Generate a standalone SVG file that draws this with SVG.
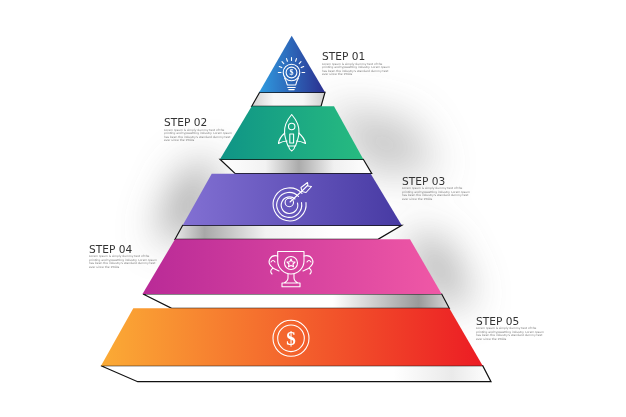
<svg xmlns="http://www.w3.org/2000/svg" width="626" height="417" viewBox="0 0 626 417">
<style>
.h{font-family:"DejaVu Sans",Verdana,sans-serif;font-size:10.6px;fill:#333}
.d{font-family:"DejaVu Sans",Verdana,sans-serif;font-size:2.9px;fill:#777}
.band{stroke:#111;stroke-width:1.2;stroke-linejoin:miter}
.i{fill:none;stroke:#fff;stroke-width:1.1;stroke-linecap:round;stroke-linejoin:round}
.fw{fill:#fff}
</style>
<defs>
<filter id="b" x="-100%" y="-100%" width="300%" height="300%"><feGaussianBlur stdDeviation="20"/></filter>
<linearGradient id="g1" x1="0" x2="1"><stop offset="0" stop-color="#2f9be0"/><stop offset="1" stop-color="#2b2f8f"/></linearGradient>
<linearGradient id="g2" x1="0" x2="1"><stop offset="0" stop-color="#0f9486"/><stop offset="1" stop-color="#27bb80"/></linearGradient>
<linearGradient id="g3" x1="0" x2="1"><stop offset="0" stop-color="#8270d3"/><stop offset="1" stop-color="#473aa3"/></linearGradient>
<linearGradient id="g4" x1="0" x2="1"><stop offset="0" stop-color="#b92a97"/><stop offset="1" stop-color="#f058a6"/></linearGradient>
<linearGradient id="g5" x1="0" x2="1"><stop offset="0" stop-color="#fbab35"/><stop offset="1" stop-color="#ec1c24"/></linearGradient>
<linearGradient id="s1" x1="0" x2="1"><stop offset="0" stop-color="#d0d0d0"/><stop offset=".3" stop-color="#f8f8f8"/><stop offset=".7" stop-color="#f6f6f6"/><stop offset="1" stop-color="#cfcfcf"/></linearGradient>
<linearGradient id="s2" x1="0" x2="1"><stop offset="0" stop-color="#fff"/><stop offset=".3" stop-color="#f2f2f2"/><stop offset=".52" stop-color="#ababab"/><stop offset=".75" stop-color="#f0f0f0"/><stop offset="1" stop-color="#fff"/></linearGradient>
<linearGradient id="s3" x1="0" x2="1"><stop offset="0" stop-color="#e8e8e8"/><stop offset=".13" stop-color="#a8a8a8"/><stop offset=".4" stop-color="#f2f2f2"/><stop offset=".7" stop-color="#fff"/><stop offset="1" stop-color="#fff"/></linearGradient>
<linearGradient id="s4" x1="0" x2="1"><stop offset="0" stop-color="#fff"/><stop offset=".62" stop-color="#fff"/><stop offset=".9" stop-color="#9a9a9a"/><stop offset="1" stop-color="#d8d8d8"/></linearGradient>
<linearGradient id="s5" x1="0" x2="1"><stop offset="0" stop-color="#fff"/><stop offset=".75" stop-color="#fff"/><stop offset=".9" stop-color="#eaeaea"/><stop offset="1" stop-color="#fff"/></linearGradient>
</defs>
<rect width="626" height="417" fill="#fff"/>
<g id="shadows" fill="#777" filter="url(#b)">
<polygon points="325,105 410,120 440,172 365,172" opacity=".42"/>
<polygon points="218,160 185,170 155,236 200,236" opacity=".7"/>
<polygon points="405,238 440,238 472,302 440,302" opacity=".7"/>
</g>
<g id="step-01">
<polygon class="band" fill="url(#s1)" points="259.7,92.3 251.7,106.3 321,106.3 325,92.3"/>
<polygon fill="url(#g1)" points="291.7,35.7 325,92.3 259.2,92.3"/>
<g class="i">
<circle cx="291.5" cy="72.5" r="8.3"/><circle cx="291.5" cy="72.5" r="5.4"/>
<path d="M284.5,78 Q286.5,81 287.3,85 H295.7 Q296.5,81 298.5,78M287.8,87.5 H295.2M288.8,89.6 H294.2"/>
<path d="M278.3,72.5H281M279.3,66.5L281.8,67.6M282,61.6L283.8,63.6M286.5,58.6L287.4,61.2M291.5,57.5V60.5M296.5,58.6L295.6,61.2M301,61.6L299.2,63.6M303.7,66.5L301.2,67.6M304.7,72.5H302"/>
</g>
<text class="fw" x="291.5" y="75.3" font-family="Liberation Serif,serif" font-size="8" font-weight="bold" text-anchor="middle">$</text>
<text class="h" x="322" y="60">STEP 01</text>
<text class="d"><tspan x="322" y="64.7">Lorem Ipsum is simply dummy text of the</tspan><tspan x="322" y="68.2">printing and typesetting industry. Lorem Ipsum</tspan><tspan x="322" y="71.7">has been the industry's standard dummy text</tspan><tspan x="322" y="75.2">ever since the 1500s</tspan></text>
</g>
<g id="step-02">
<polygon class="band" fill="url(#s2)" points="220,159.3 235,173.5 371.7,173.5 363.3,159.3"/>
<polygon fill="url(#g2)" points="251.7,106.3 334,106.3 363.3,159.3 220,159.3"/>
<g class="i">
<path d="M291.7,114.5 C287,120 284,126 284.5,133 C285,138 286.5,142 288,146 H295.5 C297,142 298.5,138 299,133 C299.5,126 296.5,120 291.7,114.5Z"/>
<circle cx="291.7" cy="126.5" r="3.2"/>
<path d="M284.8,133 Q279,138 278.5,143.5 Q283,141 287,141M298.7,133 Q304.5,138 305.5,143.5 Q300.5,141 296.5,141"/>
<path d="M289.8,134 H293.6 V143 H289.8Z M288.5,146 Q289,149.5 291.7,151 Q294.5,149.5 295,146"/>
</g>
<text class="h" x="164" y="126">STEP 02</text>
<text class="d"><tspan x="164" y="130.7">Lorem Ipsum is simply dummy text of the</tspan><tspan x="164" y="134.2">printing and typesetting industry. Lorem Ipsum</tspan><tspan x="164" y="137.7">has been the industry's standard dummy text</tspan><tspan x="164" y="141.2">ever since the 1500s</tspan></text>
</g>
<g id="step-03">
<polygon class="band" fill="url(#s3)" points="182.7,225.3 175,239.3 378,239.3 401.7,225.3"/>
<polygon fill="url(#g3)" points="211.7,173.7 370.7,173.7 401.7,225.3 182.7,225.3"/>
<g class="i">
<path d="M302,193.5 A16.5,16.5 0 1 0 306,202.5"/>
<path d="M298.5,196.5 A12.5,12.5 0 1 0 301.5,202.5"/>
<path d="M295,199 A8.3,8.3 0 1 0 297.5,203"/>
<circle cx="289.3" cy="202.5" r="4.2"/>
<path d="M290,202 L303,190 M301,187.5 L302,191.5 L306,192.5 L311.5,186.5 L308,186 L307.5,182.5 Z M307.5,185.5 L303,190"/>
</g>
<text class="h" x="402" y="185">STEP 03</text>
<text class="d"><tspan x="402" y="189.2">Lorem Ipsum is simply dummy text of the</tspan><tspan x="402" y="192.7">printing and typesetting industry. Lorem Ipsum</tspan><tspan x="402" y="196.2">has been the industry's standard dummy text</tspan><tspan x="402" y="199.7">ever since the 1500s</tspan></text>
</g>
<g id="step-04">
<polygon class="band" fill="url(#s4)" points="143,294 171.7,308.3 449.3,308.3 441.7,294"/>
<polygon fill="url(#g4)" points="175,239.3 410,239.3 441.7,294 142.5,294"/>
<g class="i">
<path d="M277.7,251.5 H304 V261 C304,268 298,274 291,274 C284,274 277.7,268 277.7,261Z"/>
<circle cx="291" cy="263" r="6.5"/>
<path d="M291,259 L292.2,261.7 L295,262 L293,264 L293.5,266.8 L291,265.4 L288.5,266.8 L289,264 L287,262 L289.8,261.7Z"/>
<path d="M277.7,256 C270,254 267,262 271,266 C273,269 277,270 279,271 M273,268 Q269,271 272,274 M275,262 Q273,259 271,262"/>
<path d="M304,256 C312,254 315,262 311,266 C309,269 305,270 303,271 M309,268 Q313,271 310,274 M307,262 Q309,259 311,262"/>
<path d="M288,274 V278 Q288,281 284,283 H298 Q294,281 294,278 V274 M282,283 H300 V286.7 H282Z"/>
</g>
<text class="h" x="89" y="253">STEP 04</text>
<text class="d"><tspan x="89" y="257.2">Lorem Ipsum is simply dummy text of the</tspan><tspan x="89" y="260.7">printing and typesetting industry. Lorem Ipsum</tspan><tspan x="89" y="264.2">has been the industry's standard dummy text</tspan><tspan x="89" y="267.7">ever since the 1500s</tspan></text>
</g>
<g id="step-05">
<polygon class="band" fill="url(#s5)" points="101,365.7 137.7,381.7 491,381.7 482.7,365.7"/>
<polygon fill="url(#g5)" points="133.3,308.3 449.3,308.3 482.7,365.7 101,365.7"/>
<g class="i"><circle cx="291" cy="338.3" r="18"/><circle cx="291" cy="338.3" r="13.3"/></g>
<text class="fw" x="291" y="345" font-family="Liberation Serif,serif" font-size="19" font-weight="bold" text-anchor="middle">$</text>
<text class="h" x="476" y="325">STEP 05</text>
<text class="d"><tspan x="476" y="329.2">Lorem Ipsum is simply dummy text of the</tspan><tspan x="476" y="332.7">printing and typesetting industry. Lorem Ipsum</tspan><tspan x="476" y="336.2">has been the industry's standard dummy text</tspan><tspan x="476" y="339.7">ever since the 1500s</tspan></text>
</g>
</svg>
